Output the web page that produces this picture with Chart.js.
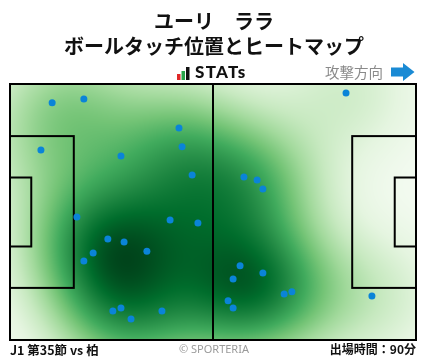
<!DOCTYPE html>
<html>
<head>
<meta charset="utf-8">
<script src="https://cdn.jsdelivr.net/npm/chart.js@4.4.1/dist/chart.umd.min.js"></script>
<style>
  body { margin: 0; background: #fff; }
  #wrap { position: relative; width: 428px; height: 359px; overflow: hidden; font-family: "Noto Sans CJK JP", "Noto Sans", sans-serif; }
  #c { position: absolute; left: 0; top: 0; }
  .t { position: absolute; white-space: nowrap; }
  .title { left: 0; width: 428px; text-align: center; font-size: 20px; font-weight: bold; color: #111; line-height: 24px; }
</style>
</head>
<body>
<div id="wrap">
  <canvas id="c" width="428" height="359"></canvas>
  <div class="t title" style="top:9px;">ユーリ　ララ</div>
  <div class="t title" style="top:34px;">ボールタッチ位置とヒートマップ</div>
  <svg class="t" style="left:177px;top:67px;" width="14" height="14">
    <rect x="0" y="7" width="3.5" height="6" fill="#e02828"/>
    <rect x="4.5" y="4" width="3.5" height="9" fill="#2aa44a"/>
    <rect x="9" y="0" width="3.5" height="13" fill="#111"/>
  </svg>
  <div class="t" style="left:195px;top:61px;font-family:Lato,Roboto,sans-serif;font-weight:900;font-size:17px;letter-spacing:1.3px;color:#111;">STATs</div>
  <div class="t" style="left:325px;top:61px;font-size:14.5px;color:#8a8a8a;">攻撃方向</div>
  <svg class="t" style="left:390px;top:62px;" width="26" height="20">
    <polygon points="1,5.5 13,5.5 13,1 24.5,10 13,19 13,14.5 1,14.5" fill="#1a8ad4"/>
  </svg>
  <div class="t" style="left:10px;top:340px;font-size:12.5px;font-weight:bold;color:#111;">J1 第35節 vs 柏</div>
  <div class="t" style="left:0;width:428px;text-align:center;top:341px;font-size:11px;color:#9a9a9a;font-family:'Noto Sans',sans-serif;">© SPORTERIA</div>
  <div class="t" style="right:12px;top:340px;font-size:12px;font-weight:bold;color:#111;">出場時間：90分</div>
</div>
<script>
// touch positions in metres (pitch 105 x 68, y from top)
const touchX = [10.9, 19.1, 43.7, 44.5, 47.1, 8.0, 28.7, 86.9, 60.5, 63.9, 65.4,
                17.3, 41.4, 48.6, 25.3, 29.5, 35.4, 21.5, 19.1, 28.7, 26.6, 39.3, 31.3,
                59.5, 57.7, 65.4, 70.9, 72.9, 56.4, 57.7, 93.6];
const touchY = [5.0, 4.0, 11.7, 16.7, 24.2, 17.5, 19.1, 2.4, 24.7, 25.5, 27.9,
                35.3, 36.1, 36.9, 41.2, 42.0, 44.4, 44.9, 47.0, 59.5, 60.3, 60.3, 62.4,
                48.3, 51.8, 50.2, 55.8, 55.2, 57.6, 59.5, 56.3];

const pitchLength = 105;
const pitchWidth = 68;

// Greens colour scale
const greens = ['#f7fcf5', '#e5f5e0', '#c7e9c0', '#a1d99b', '#74c476', '#41ab5d', '#238b45', '#006d2c', '#00441b'];

function hexToRgb(h) {
    return [parseInt(h.slice(1, 3), 16), parseInt(h.slice(3, 5), 16), parseInt(h.slice(5, 7), 16)];
}
const greensRgb = greens.map(hexToRgb);

function greenAt(t) {
    t = Math.max(0, Math.min(1, t));
    const f = t * (greensRgb.length - 1);
    const i = Math.min(Math.floor(f), greensRgb.length - 2);
    const k = f - i;
    const a = greensRgb[i], b = greensRgb[i + 1];
    return [a[0] + (b[0] - a[0]) * k, a[1] + (b[1] - a[1]) * k, a[2] + (b[2] - a[2]) * k];
}

// heatmap from the touches, drawn under the points
const heatPlugin = {
    id: 'heat',
    beforeDatasetsDraw(chart) {
        const { ctx, chartArea, scales } = chart;
        const { left, top, width, height } = chartArea;
        const w = Math.round(width), h = Math.round(height);
        const bw = 12;
        const dens = new Float32Array(w * h);
        let max = 0;
        for (let j = 0; j < h; j++) {
            const yv = scales.y.getValueForPixel(top + j + 0.5);
            for (let i = 0; i < w; i++) {
                const xv = scales.x.getValueForPixel(left + i + 0.5);
                let s = 0;
                for (let p = 0; p < touchX.length; p++) {
                    const dx = xv - touchX[p], dy = yv - touchY[p];
                    s += Math.exp(-(dx * dx + dy * dy) / (2 * bw * bw));
                }
                dens[j * w + i] = s;
                if (s > max) max = s;
            }
        }
        const off = document.createElement('canvas');
        off.width = w; off.height = h;
        const octx = off.getContext('2d');
        const img = octx.createImageData(w, h);
        for (let n = 0; n < w * h; n++) {
            const c = greenAt(Math.pow(dens[n] / max, 0.8));
            img.data[n * 4] = c[0];
            img.data[n * 4 + 1] = c[1];
            img.data[n * 4 + 2] = c[2];
            img.data[n * 4 + 3] = 255;
        }
        octx.putImageData(img, 0, 0);
        ctx.drawImage(off, left, top);

        // pitch markings
        const X = v => scales.x.getPixelForValue(v);
        const Y = v => scales.y.getPixelForValue(v);
        ctx.save();
        ctx.strokeStyle = '#000';
        ctx.lineWidth = 2;
        const rect = (x0, y0, x1, y1) => {
            ctx.strokeRect(X(x0), Y(y0), X(x1) - X(x0), Y(y1) - Y(y0));
        };
        rect(0, 0, pitchLength, pitchWidth);
        ctx.beginPath();
        ctx.moveTo(X(pitchLength / 2), Y(0));
        ctx.lineTo(X(pitchLength / 2), Y(pitchWidth));
        ctx.stroke();
        const pa = 40.32, ga = 18.32;
        rect(0, (pitchWidth - pa) / 2, 16.5, (pitchWidth + pa) / 2);
        rect(0, (pitchWidth - ga) / 2, 5.5, (pitchWidth + ga) / 2);
        rect(pitchLength - 16.5, (pitchWidth - pa) / 2, pitchLength, (pitchWidth + pa) / 2);
        rect(pitchLength - 5.5, (pitchWidth - ga) / 2, pitchLength, (pitchWidth + ga) / 2);
        ctx.restore();
    }
};

const chart = new Chart(document.getElementById('c'), {
    type: 'scatter',
    data: {
        datasets: [{
            data: touchX.map((x, i) => ({ x: x, y: touchY[i] })),
            backgroundColor: '#0a84d8',
            borderWidth: 0,
            pointRadius: 3.5,
        }]
    },
    options: {
        responsive: false,
        animation: false,
        layout: { padding: { left: 10, top: 84, right: 12, bottom: 19 } },
        plugins: {
            legend: { display: false },
            tooltip: { enabled: false },
        },
        scales: {
            x: { display: false, min: 0, max: pitchLength },
            y: { display: false, min: 0, max: pitchWidth, reverse: true },
        }
    },
    plugins: [heatPlugin]
});
</script>
</body>
</html>
